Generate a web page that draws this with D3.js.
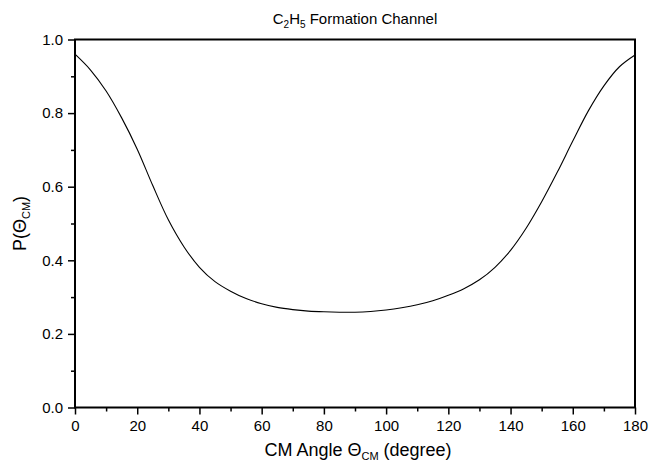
<!DOCTYPE html>
<html>
<head>
<meta charset="utf-8">
<script src="https://cdn.jsdelivr.net/npm/d3@7"></script>
<style>
  body { margin: 0; background: #fff; }
  text { font-family: "Liberation Sans", Arial, sans-serif; fill: #000; }
</style>
</head>
<body>
<div id="chart"></div>
<script>
// angle (degree) and P(theta)
var angles = [0, 5, 10, 15, 20, 25, 30, 35, 40, 45, 50, 55, 60, 65, 70, 75, 80, 85, 90,
    95, 100, 105, 110, 115, 120, 125, 130, 135, 140, 145, 150, 155, 160, 165, 170, 175, 180];
var probs = [0.960, 0.917, 0.860, 0.787, 0.702, 0.603, 0.510, 0.437, 0.381, 0.342, 0.316, 0.296,
    0.282, 0.272, 0.266, 0.262, 0.260, 0.259, 0.259, 0.261, 0.265, 0.271, 0.279, 0.290,
    0.305, 0.323, 0.347, 0.381, 0.427, 0.487, 0.559, 0.639, 0.724, 0.806, 0.874, 0.926, 0.958];
var xTicks = [0, 20, 40, 60, 80, 100, 120, 140, 160, 180];
var yTicks = [0.0, 0.2, 0.4, 0.6, 0.8, 1.0];

function main() {
    const canvasWidth = 650;
    const canvasHeight = 462;
    const left = 75, right = 635, top = 39.5, bottom = 407.5;

    var svg = d3.select("#chart").append("svg")
        .attr("width", canvasWidth)
        .attr("height", canvasHeight)

    var x = d3.scaleLinear().domain([0, 180]).range([left, right]);
    var y = d3.scaleLinear().domain([0, 1]).range([bottom, top]);

    // minor ticks
    svg.append("g")
        .attr("transform", "translate(0," + bottom + ")")
        .call(d3.axisBottom(x).tickValues(d3.range(10, 180, 20)).tickSize(4).tickFormat(""))
        .call(g => g.select(".domain").remove())
    svg.append("g")
        .attr("transform", "translate(" + left + ",0)")
        .call(d3.axisLeft(y).tickValues([0.1, 0.3, 0.5, 0.7, 0.9]).tickSize(4).tickFormat(""))
        .call(g => g.select(".domain").remove())

    // major ticks
    var xAxis = svg.append("g")
        .attr("transform", "translate(0," + bottom + ")")
        .call(d3.axisBottom(x).tickValues(xTicks).tickSize(7).tickFormat(d3.format("d")))
    xAxis.select(".domain").remove()
    xAxis.selectAll("text").style("font-size", "15px").attr("dy", "0.9em")

    var yAxis = svg.append("g")
        .attr("transform", "translate(" + left + ",0)")
        .call(d3.axisLeft(y).tickValues(yTicks).tickSize(7).tickFormat(d3.format(".1f")))
    yAxis.select(".domain").remove()
    yAxis.selectAll("text").style("font-size", "15px").attr("x", -12)

    svg.selectAll(".tick line").attr("stroke", "#000").attr("stroke-width", 1.5)

    // frame
    svg.append("rect")
        .attr("x", left).attr("y", top)
        .attr("width", right - left).attr("height", bottom - top)
        .attr("fill", "none").attr("stroke", "#000").attr("stroke-width", 2)

    var line = d3.line()
        .x(function (d, i) { return x(angles[i]); })
        .y(function (d) { return y(d); })
        .curve(d3.curveCatmullRom)

    svg.append("path")
        .datum(probs)
        .attr("d", line)
        .attr("fill", "none")
        .attr("stroke", "#000")
        .attr("stroke-width", 1.1)

    // title
    var title = svg.append("text")
        .attr("x", (left + right) / 2).attr("y", 24)
        .attr("text-anchor", "middle")
        .style("font-size", "15px")
    title.append("tspan").text("C")
    title.append("tspan").text("2").attr("dy", 4).style("font-size", "10px")
    title.append("tspan").text("H").attr("dy", -4)
    title.append("tspan").text("5").attr("dy", 4).style("font-size", "10px")
    title.append("tspan").text(" Formation Channel").attr("dy", -4)

    // x label
    var xl = svg.append("text")
        .attr("x", (left + right) / 2 + 3).attr("y", 456)
        .attr("text-anchor", "middle")
        .style("font-size", "18px")
    xl.append("tspan").text("CM Angle \u0398")
    xl.append("tspan").text("CM").attr("dy", 4).style("font-size", "11px")
    xl.append("tspan").text(" (degree)").attr("dy", -4)

    // y label
    var yl = svg.append("text")
        .attr("transform", "translate(26," + ((top + bottom) / 2) + ") rotate(-90)")
        .attr("text-anchor", "middle")
        .style("font-size", "18px")
    yl.append("tspan").text("P(\u0398")
    yl.append("tspan").text("CM").attr("dy", 4).style("font-size", "11px")
    yl.append("tspan").text(")").attr("dy", -4)
}
main();
</script>
</body>
</html>
